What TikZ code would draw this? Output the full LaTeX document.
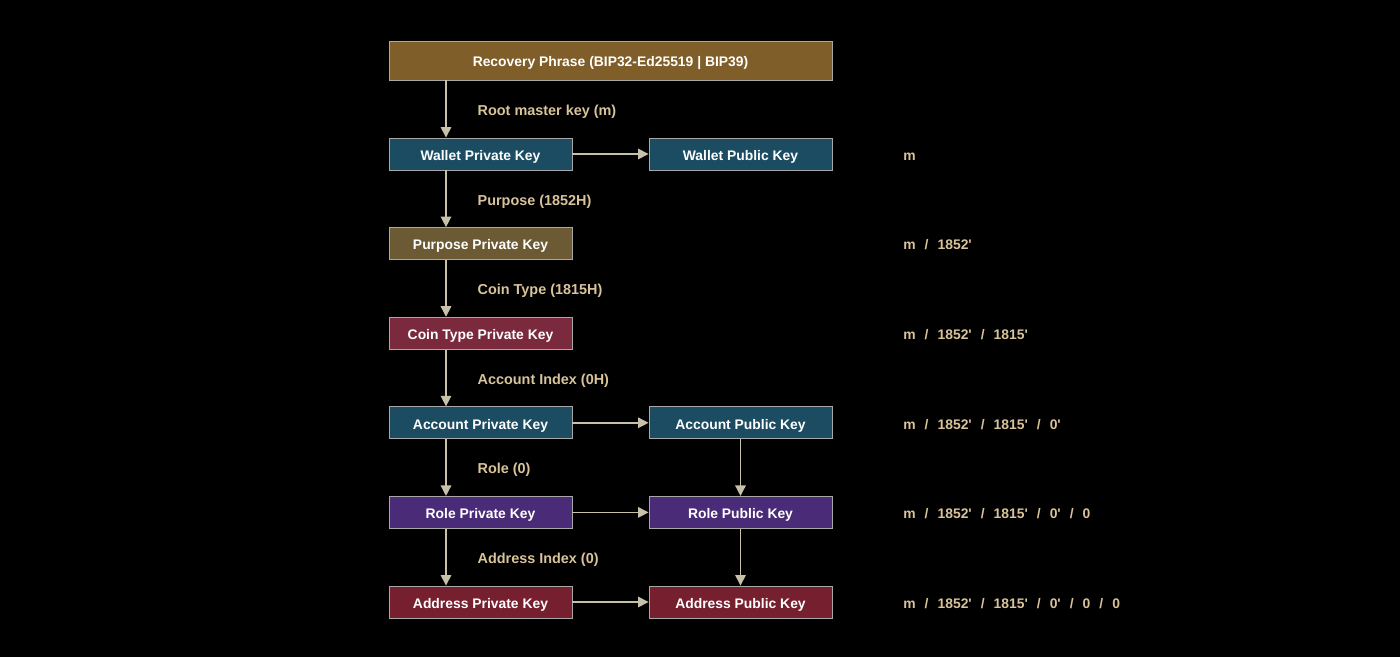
\documentclass[tikz,border=0pt]{standalone}
\usepackage{fontspec}
\setmainfont{Liberation Sans}[Ligatures=TeXOff]
\usepackage{tikz}
\usetikzlibrary{positioning,arrows.meta}
\definecolor{seedgold}{HTML}{7F5E2A}
\definecolor{walletblue}{HTML}{1B4C62}
\definecolor{purposebrown}{HTML}{6B5A33}
\definecolor{coinred}{HTML}{7A2A3C}
\definecolor{rolepurple}{HTML}{4A2B78}
\definecolor{addrred}{HTML}{76202F}
\definecolor{edgetan}{HTML}{D8C39A}
\definecolor{arrowgray}{HTML}{C9C0AA}
\definecolor{keyline}{HTML}{A8A8A8}
\newcommand{\psep}{\hspace{0.65em}/\hspace{0.65em}}
\tikzstyle{key} = [rectangle, draw=keyline, line width=0.5pt, minimum width=3.66cm, minimum height=0.64cm, inner sep=0pt, text height=0.78em, text depth=0.06em, text=white, font=\fontsize{7.9}{9}\selectfont\bfseries]
\tikzstyle{lbl} = [anchor=west, inner sep=0pt, text height=0.78em, text depth=0.06em, text=edgetan, font=\fontsize{8.2}{9}\selectfont\bfseries]
\tikzstyle{kpath} = [anchor=west, inner sep=0pt, text height=0.78em, text depth=0.06em, text=edgetan, font=\fontsize{7.9}{9}\selectfont\bfseries]
\tikzstyle{link} = [draw=arrowgray, line width=0.8pt, -{Triangle[width=6pt,length=6pt]}]

\begin{document}
\begin{tikzpicture}[on grid, node distance=1.792cm and 5.2cm]
\fill[black] (0,0) rectangle (28,-13.14);
\node(RP)[key, fill=seedgold, minimum width=8.86cm, minimum height=0.78cm] at (12.21,-1.21) {Recovery Phrase (BIP32-Ed25519 | BIP39)};
\node(WPriv)[key, fill=walletblue] at (9.61,-3.08) {Wallet Private Key};
\node(WPub)[key, fill=walletblue, right=of WPriv] {Wallet Public Key};
\node(PPriv)[key, fill=purposebrown, below=of WPriv] {Purpose Private Key};
\node(CPriv)[key, fill=coinred, below=of PPriv] {Coin Type Private Key};
\node(APriv)[key, fill=walletblue, below=of CPriv] {Account Private Key};
\node(APub)[key, fill=walletblue, right=of APriv] {Account Public Key};
\node(RPriv)[key, fill=rolepurple, below=of APriv] {Role Private Key};
\node(RPub)[key, fill=rolepurple, right=of RPriv] {Role Public Key};
\node(DPriv)[key, fill=addrred, below=of RPriv] {Address Private Key};
\node(DPub)[key, fill=addrred, right=of DPriv] {Address Public Key};
% derivation paths
\node(pW)[kpath] at (18.06,0 |- WPriv) {m};
\node(pP)[kpath] at (18.06,0 |- PPriv) {m\psep 1852'};
\node(pC)[kpath] at (18.06,0 |- CPriv) {m\psep 1852'\psep 1815'};
\node(pA)[kpath] at (18.06,0 |- APriv) {m\psep 1852'\psep 1815'\psep 0'};
\node(pR)[kpath] at (18.06,0 |- RPriv) {m\psep 1852'\psep 1815'\psep 0'\psep 0};
\node(pD)[kpath] at (18.06,0 |- DPriv) {m\psep 1852'\psep 1815'\psep 0'\psep 0\psep 0};
% private chain
\draw[link] ([xshift=-0.69cm]WPriv.north |- RP.south) -- ([xshift=-0.69cm]WPriv.north) node[lbl, midway, xshift=0.62cm] {Root master key (m)};
\draw[link] ([xshift=-0.69cm]WPriv.south) -- ([xshift=-0.69cm]PPriv.north) node[lbl, midway, xshift=0.62cm] {Purpose (1852H)};
\draw[link] ([xshift=-0.69cm]PPriv.south) -- ([xshift=-0.69cm]CPriv.north) node[lbl, midway, xshift=0.62cm] {Coin Type (1815H)};
\draw[link] ([xshift=-0.69cm]CPriv.south) -- ([xshift=-0.69cm]APriv.north) node[lbl, midway, xshift=0.62cm] {Account Index (0H)};
\draw[link] ([xshift=-0.69cm]APriv.south) -- ([xshift=-0.69cm]RPriv.north) node[lbl, midway, xshift=0.62cm] {Role (0)};
\draw[link] ([xshift=-0.69cm]RPriv.south) -- ([xshift=-0.69cm]DPriv.north) node[lbl, midway, xshift=0.62cm] {Address Index (0)};
% public side
\draw[link] (WPriv) -- (WPub);
\draw[link] (APriv) -- (APub);
\draw[link] (RPriv) -- (RPub);
\draw[link] (DPriv) -- (DPub);
\draw[link] (APub) -- (RPub);
\draw[link] (RPub) -- (DPub);
\end{tikzpicture}
\end{document}
